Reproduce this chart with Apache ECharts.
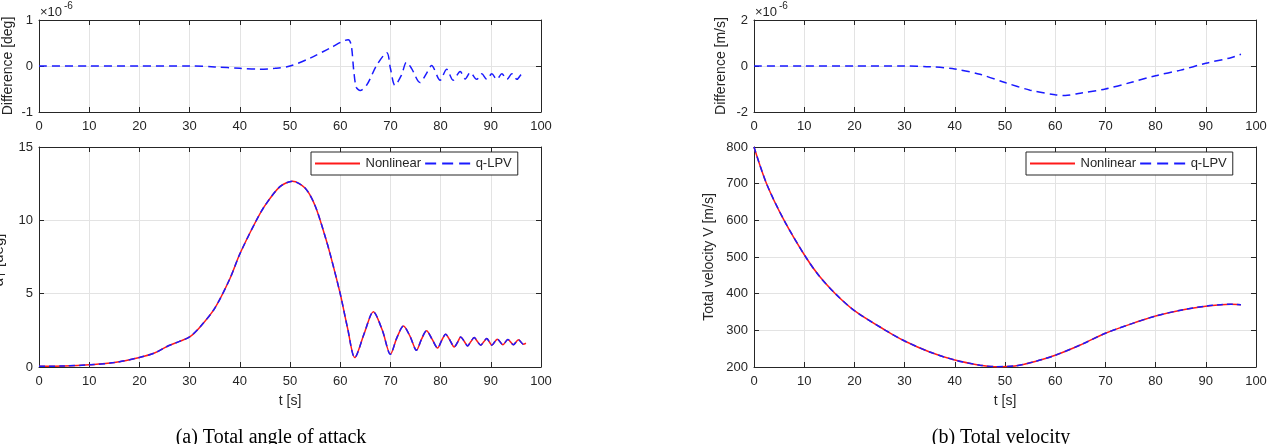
<!DOCTYPE html>
<html><head><meta charset="utf-8">
<script src="https://cdn.jsdelivr.net/npm/echarts@6/dist/echarts.min.js"></script>
<style>html,body{margin:0;padding:0;background:#fff}#c{width:1276px;height:444px}</style>
</head><body><div id="c"></div>
<script>
// ---------------- data ----------------
const xTickLabels = ['0','10','20','30','40','50','60','70','80','90','100'];

// (a) total angle of attack alpha_T [deg] vs t [s]
const tAlpha = [0,5,10,15,20,23,25.5,28,30,32,35,38,40,43,45,48,50.5,53,55,57,58,60,61.5,62.9,64.8,66.6,68.4,70.0,71.3,72.6,73.9,75.2,76.2,77.2,78.3,79.4,80.2,81.0,81.9,82.7,83.4,84.0,84.7,85.4,86.0,86.7,87.3,88.0,88.6,89.2,89.7,90.2,91.3,92.4,93.4,94.5,95.5,96.5,97];
const alphaNonlinear = [0.05,0.07,0.15,0.3,0.65,0.95,1.4,1.75,2.05,2.7,4.0,6.0,7.7,9.8,11.0,12.3,12.66,12.2,11.0,8.9,7.7,5.0,2.6,0.64,2.3,3.77,2.5,0.87,2.0,2.79,2.1,1.14,1.9,2.47,1.9,1.30,1.8,2.24,1.8,1.37,1.7,2.05,1.75,1.44,1.72,2.01,1.75,1.49,1.72,1.94,1.72,1.49,1.9,1.52,1.88,1.52,1.86,1.55,1.62];
const alphaQLPV = alphaNonlinear; // indistinguishable from Nonlinear at plotted scale

// difference (x 1e-6 deg)
const tAlphaDiff = [0,10,20,30,35,40,44,47,50,54,58,61.6,62.2,62.7,63.2,64,65.3,67.3,69.3,70,70.9,72.2,73.2,74.2,75.9,77.2,78.2,79.9,81.2,82.5,83.9,84.9,85.9,87.2,88.2,89.2,90.2,91.2,92.2,93.2,94.2,95.2,96.2,97];
const alphaDiff = [0,0,0,0,-0.02,-0.05,-0.07,-0.05,0,0.17,0.39,0.57,0.45,-0.1,-0.46,-0.53,-0.41,0.02,0.29,-0.05,-0.42,-0.2,0.08,-0.05,-0.36,-0.16,0.01,-0.31,-0.07,-0.31,-0.12,-0.28,-0.14,-0.29,-0.17,-0.29,-0.17,-0.29,-0.17,-0.29,-0.17,-0.29,-0.18,-0.2];

// (b) total velocity V [m/s] vs t [s]
const tVel = [0,2.5,6,10.3,13,16.2,20,26.2,30,35,40,45,48,52,56,60,65,70,75,80,85,90,93,95,97];
const velNonlinear = [800,700,600,500,448,400,354,300,271,241,219,205,201,203,215,232,260,292,317,339,355,366,370,371,370];
const velQLPV = velNonlinear; // indistinguishable at plotted scale

// difference (x 1e-6 m/s)
const tVelDiff = [0,10,20,30,35,40,45,50,55,60,62,65,70,75,80,85,90,95,97];
const velDiff = [0,0,0,0,-0.03,-0.13,-0.36,-0.72,-1.05,-1.25,-1.28,-1.18,-1.0,-0.72,-0.42,-0.18,0.12,0.36,0.51];

// ---------------- chart ----------------
const pairs = (xs, ys) => xs.map((x, i) => [x, ys[i]]);
const AX = '#262626', GRIDC = '#e3e3e3', FONT = '"Liberation Sans", Arial, Helvetica, sans-serif';
const RED = '#ff1a1a', BLUE = '#1a1aff';

const grids = [
  {left: 39, top: 20, width: 502, height: 92},
  {left: 39, top: 147, width: 502, height: 220},
  {left: 754, top: 20, width: 502, height: 92},
  {left: 754, top: 147, width: 502, height: 220}
];
const yCfg = [
  {min: -1, max: 1, interval: 1, name: 'Difference [deg]', gap: 24},
  {min: 0, max: 15, interval: 5, name: '', gap: 30},
  {min: -2, max: 2, interval: 2, name: 'Difference [m/s]', gap: 26},
  {min: 200, max: 800, interval: 100, name: 'Total velocity V [m/s]', gap: 38}
];

const xAxis = [], yAxis = [];
grids.forEach((g, i) => {
  const bottomPlot = (i % 2 === 1);
  xAxis.push({
    type: 'value', gridIndex: i, min: 0, max: 100, interval: 10, position: 'bottom',
    axisLine: {show: true, onZero: false, lineStyle: {color: AX, width: 1}},
    axisTick: {show: true, inside: true, length: 5, lineStyle: {color: AX}},
    axisLabel: {show: true, color: AX, fontSize: 13, fontFamily: FONT, margin: 8,
      formatter: v => xTickLabels[Math.round(v / 10)]},
    splitLine: {show: true, lineStyle: {color: GRIDC, width: 1}},
    name: bottomPlot ? 't [s]' : '', nameLocation: 'middle', nameGap: 27,
    nameTextStyle: {color: AX, fontSize: 14, fontFamily: FONT}
  });
  xAxis.push({
    type: 'value', gridIndex: i, min: 0, max: 100, interval: 10, position: 'top',
    axisLine: {show: true, onZero: false, lineStyle: {color: AX, width: 1}},
    axisTick: {show: true, inside: true, length: 5, lineStyle: {color: AX}},
    axisLabel: {show: false}, splitLine: {show: false}
  });
  const c = yCfg[i];
  yAxis.push({
    type: 'value', gridIndex: i, min: c.min, max: c.max, interval: c.interval, position: 'left',
    axisLine: {show: true, onZero: false, lineStyle: {color: AX, width: 1}},
    axisTick: {show: true, inside: true, length: 5, lineStyle: {color: AX}},
    axisLabel: {show: true, color: AX, fontSize: 13, fontFamily: FONT, margin: 6},
    splitLine: {show: true, lineStyle: {color: GRIDC, width: 1}},
    name: c.name, nameLocation: 'middle', nameGap: c.gap, nameRotate: 90,
    nameTextStyle: {color: AX, fontSize: 14, fontFamily: FONT}
  });
  yAxis.push({
    type: 'value', gridIndex: i, min: c.min, max: c.max, interval: c.interval, position: 'right',
    axisLine: {show: true, onZero: false, lineStyle: {color: AX, width: 1}},
    axisTick: {show: true, inside: true, length: 5, lineStyle: {color: AX}},
    axisLabel: {show: false}, splitLine: {show: false}
  });
});

const lineBase = {type: 'line', symbol: 'none', smooth: 0.3, animation: false, z: 3};
const series = [
  Object.assign({}, lineBase, {name: 'diffA', xAxisIndex: 0, yAxisIndex: 0, data: pairs(tAlphaDiff, alphaDiff),
    lineStyle: {color: BLUE, width: 1.5, type: [8, 5]}, itemStyle: {color: BLUE}}),
  Object.assign({}, lineBase, {name: 'Nonlinear', xAxisIndex: 2, yAxisIndex: 2, data: pairs(tAlpha, alphaNonlinear),
    lineStyle: {color: RED, width: 1.5}, itemStyle: {color: RED}}),
  Object.assign({}, lineBase, {name: 'q-LPV', xAxisIndex: 2, yAxisIndex: 2, data: pairs(tAlpha, alphaQLPV), z: 4,
    lineStyle: {color: BLUE, width: 1.5, type: [6, 4]}, itemStyle: {color: BLUE}}),
  Object.assign({}, lineBase, {name: 'diffV', xAxisIndex: 4, yAxisIndex: 4, data: pairs(tVelDiff, velDiff),
    lineStyle: {color: BLUE, width: 1.5, type: [8, 5]}, itemStyle: {color: BLUE}}),
  Object.assign({}, lineBase, {name: 'Nonlinear', xAxisIndex: 6, yAxisIndex: 6, data: pairs(tVel, velNonlinear),
    lineStyle: {color: RED, width: 1.5}, itemStyle: {color: RED}}),
  Object.assign({}, lineBase, {name: 'q-LPV', xAxisIndex: 6, yAxisIndex: 6, data: pairs(tVel, velQLPV), z: 4,
    lineStyle: {color: BLUE, width: 1.5, type: [6, 4]}, itemStyle: {color: BLUE}})
];

const SOLID_ICON = 'path://M0,0h45v2h-45z';
const DASH_ICON = 'path://M0,0h11v2h-11zM17,0h11v2h-11zM34,0h11v2h-11z';
const legendBase = {
  data: [{name: 'Nonlinear', icon: SOLID_ICON}, {name: 'q-LPV', icon: DASH_ICON}],
  orient: 'horizontal', top: 152,
  backgroundColor: '#fff', borderColor: AX, borderWidth: 1, borderRadius: 0,
  padding: [5, 6, 5, 4], itemGap: 4, itemWidth: 46, itemHeight: 2,
  textStyle: {color: AX, fontSize: 13, fontFamily: FONT}, selectedMode: false
};
const legend = [
  Object.assign({}, legendBase, {left: 311}),
  Object.assign({}, legendBase, {left: 1026})
];

const txt = (x, y, text, size, extra) => ({type: 'text', x: x, y: y, silent: true,
  style: Object.assign({text: text, fill: AX, font: size + 'px ' + FONT}, extra || {})});

const graphic = [
  txt(40, 6, '\u00d710', 13),
  txt(64, 1, '-6', 10),
  txt(755, 6, '\u00d710', 13),
  txt(779, 1, '-6', 10),
  // clipped alpha_T label at the far left of the lower-left axes
  {type: 'text', x: -1, y: 260, rotation: Math.PI / 2, silent: true,
    style: {text: '{a|\u03b1}{b|T}{a| [deg]}', align: 'center', verticalAlign: 'middle',
      rich: {a: {fontSize: 15, fontFamily: FONT, fill: AX}, b: {fontSize: 11, fontFamily: FONT, fill: AX, padding: [6, 0, 0, 0]}}}},
  {type: 'text', x: 271, y: 438, silent: true,
    style: {text: '(a) Total angle of attack', fill: '#000', font: '20px "Liberation Serif", "Times New Roman", serif', align: 'center', verticalAlign: 'middle'}},
  {type: 'text', x: 1001, y: 438, silent: true,
    style: {text: '(b) Total velocity', fill: '#000', font: '20px "Liberation Serif", "Times New Roman", serif', align: 'center', verticalAlign: 'middle'}}
];

const chart = echarts.init(document.getElementById('c'), null, {renderer: 'canvas'});
chart.setOption({
  backgroundColor: '#fff', animation: false,
  grid: grids, xAxis: xAxis, yAxis: yAxis, series: series, legend: legend, graphic: graphic
});
</script>
</body></html>
